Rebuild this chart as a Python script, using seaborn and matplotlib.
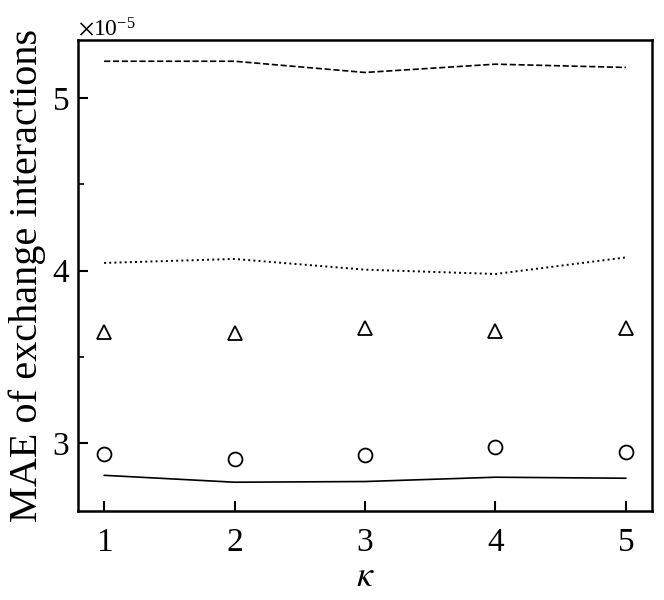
import numpy as np
import seaborn as sns
import matplotlib.pyplot as plt
from matplotlib.ticker import MultipleLocator, ScalarFormatter

# values (units of 1e-5)
kappa = [1, 2, 3, 4, 5]
dashed_vals = [5.214, 5.214, 5.149, 5.197, 5.178]
dotted_vals = [4.045, 4.068, 4.006, 3.981, 4.077]
triangle_vals = [3.642, 3.638, 3.666, 3.652, 3.666]
circle_vals = [2.940, 2.911, 2.930, 2.977, 2.948]
solid_vals = [2.814, 2.774, 2.778, 2.803, 2.797]
scale = 1e-5

sns.set_style('ticks')
plt.rcParams['font.family'] = ['Liberation Serif', 'DejaVu Serif']
plt.rcParams['mathtext.fontset'] = 'stix'
plt.rcParams['axes.edgecolor'] = 'black'
plt.rcParams['xtick.color'] = 'black'
plt.rcParams['ytick.color'] = 'black'
plt.rcParams['text.color'] = 'black'
plt.rcParams['axes.labelcolor'] = 'black'

fig = plt.figure(figsize=(6.64, 6.0), dpi=100)
ax = fig.add_axes([0.1175, 0.148, 0.8645, 0.785])

x = np.array(kappa)
sns.lineplot(x=x, y=np.array(dashed_vals) * scale, ax=ax, color='black',
             linestyle='--', linewidth=1.2)
sns.lineplot(x=x, y=np.array(dotted_vals) * scale, ax=ax, color='black',
             linestyle=':', linewidth=1.4)
sns.lineplot(x=x, y=np.array(solid_vals) * scale, ax=ax, color='black',
             linestyle='-', linewidth=1.2)
sns.lineplot(x=x, y=np.array(triangle_vals) * scale, ax=ax, linestyle='',
             marker='^', markersize=10, markerfacecolor='none',
             markeredgecolor='black', markeredgewidth=1.3)
sns.lineplot(x=x, y=np.array(circle_vals) * scale, ax=ax, linestyle='',
             marker='o', markersize=10, markerfacecolor='none',
             markeredgecolor='black', markeredgewidth=1.3)

ax.set_xlim(0.8, 5.2)
ax.set_ylim(2.606e-5, 5.336e-5)
ax.set_xticks(kappa)
ax.yaxis.set_major_locator(MultipleLocator(1e-5))
ax.yaxis.set_minor_locator(MultipleLocator(0.5e-5))
fmt = ScalarFormatter(useMathText=True)
fmt.set_powerlimits((0, 0))
ax.yaxis.set_major_formatter(fmt)
ax.yaxis.get_offset_text().set_fontsize(17)

ax.tick_params(axis='both', which='major', direction='in', length=7, width=1.5,
               labelsize=24, top=False, right=False)
ax.tick_params(axis='x', which='major', pad=12)
ax.tick_params(axis='y', which='major', pad=6)
ax.tick_params(axis='y', which='minor', direction='in', length=4, width=1.2)
for sp in ax.spines.values():
    sp.set_linewidth(1.8)

ax.set_xlabel(r'$\kappa$', fontsize=26, labelpad=2)
ax.set_ylabel('MAE of exchange interactions', fontsize=29)

plt.savefig('out.png', dpi=100)
